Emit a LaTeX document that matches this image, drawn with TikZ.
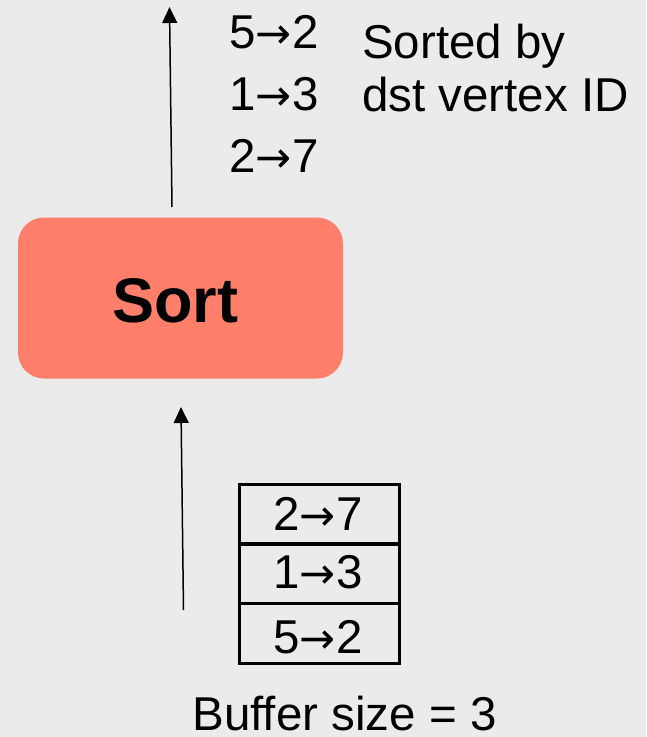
\documentclass[tikz,border=0pt]{standalone}
\usepackage{fontspec}
\setmainfont{Liberation Sans}
\newfontfamily\arrfont{DejaVu Sans}
\newcommand\myarr{{\fontsize{43}{46}\arrfont →}}
\usetikzlibrary{arrows.meta}
\definecolor{bg}{RGB}{235,235,235}
\definecolor{sortfill}{RGB}{255,127,106}
\begin{document}
\begin{tikzpicture}[x=1pt,y=-1pt,
  txt/.style={inner sep=0pt,anchor=base,font=\fontsize{47.5}{50}\selectfont},
  flow/.style={line width=1.5pt,-{Triangle[width=15pt,length=16pt]}},
  cell/.style={draw,line width=3pt,minimum width=160pt,minimum height=60pt,inner sep=0pt,anchor=north west}]
\fill[bg] (0,0) rectangle (646,737);
\useasboundingbox (0,0) rectangle (646,737);
% Sort box
\node[fill=sortfill,rounded corners=26pt,minimum width=325pt,minimum height=161pt,inner sep=0pt] (sort) at (180.5,298) {};
\node[inner sep=0pt,anchor=base,font=\fontsize{63}{66}\selectfont\bfseries] (sortlbl) at (175,322) {Sort};
% output arrow
\coordinate (outbot) at (172,207);
\coordinate (outtop) at (169.5,7);
\draw[flow] (outbot) -- (outtop);
% input arrow
\coordinate (inbot) at (183.5,610);
\coordinate (intop) at (181,407);
\draw[flow] (inbot) -- (intop);
% sorted output
\node[txt] (o1) at (274,48) {5\myarr2};
\node[txt] (o2) at (274,110) {1\myarr3};
\node[txt] (o3) at (274,172) {2\myarr7};
\node[txt,anchor=base west] (s1) at (362,58) {Sorted by};
\node[txt,anchor=base west] (s2) at (362,111) {dst vertex ID};
% buffer
\node[cell] (c1) at (238,483) {};
\node[cell] (c2) at (238,542) {};
\node[cell] (c3) at (238,602) {};
\node[txt] (b1) at (318,530) {2\myarr7};
\node[txt] (b2) at (318,588) {1\myarr3};
\node[txt] (b3) at (318,653) {5\myarr2};
\node[txt,text depth=0pt] (bs) at (344.5,730) {Buffer size = 3};
\end{tikzpicture}
\end{document}
